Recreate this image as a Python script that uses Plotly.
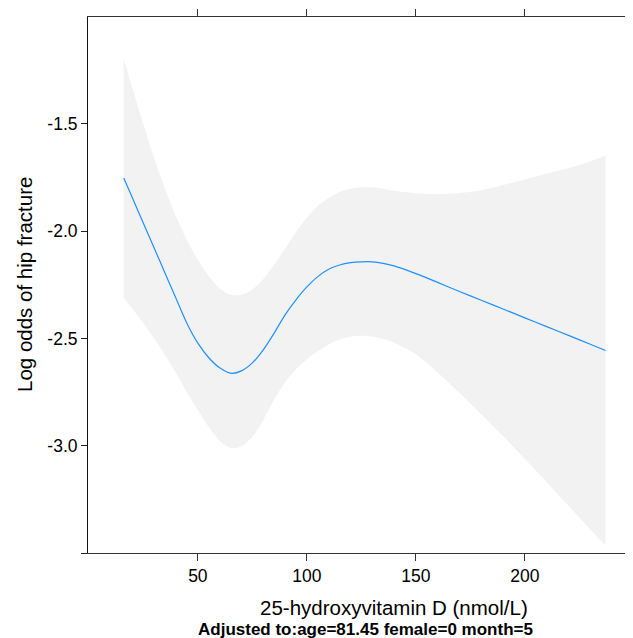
import plotly.graph_objects as go

vitd = [16, 20, 25, 30, 35, 40, 45, 50, 55, 60, 65, 70, 75, 80, 85, 90, 95, 100,
        105, 110, 115, 120, 125, 130, 135, 140, 150, 160, 170, 180, 190, 200,
        210, 220, 230, 237]
log_odds = [-1.752, -1.846, -1.963, -2.080, -2.197, -2.314, -2.430, -2.522, -2.590,
            -2.637, -2.662, -2.651, -2.614, -2.553, -2.475, -2.390, -2.320, -2.260,
            -2.212, -2.178, -2.158, -2.147, -2.143, -2.143, -2.150, -2.162, -2.198,
            -2.239, -2.281, -2.322, -2.363, -2.404, -2.445, -2.486, -2.527, -2.556]
upper = [-1.199, -1.335, -1.503, -1.662, -1.805, -1.932, -2.042, -2.135, -2.209,
         -2.267, -2.297, -2.297, -2.272, -2.223, -2.157, -2.082, -2.005, -1.937,
         -1.882, -1.846, -1.818, -1.803, -1.796, -1.796, -1.802, -1.812, -1.823,
         -1.827, -1.822, -1.809, -1.785, -1.759, -1.733, -1.706, -1.675, -1.648]
lower = [-2.311, -2.363, -2.428, -2.500, -2.577, -2.662, -2.751, -2.834, -2.913,
         -2.977, -3.011, -3.002, -2.958, -2.880, -2.785, -2.705, -2.644, -2.597,
         -2.560, -2.528, -2.505, -2.492, -2.488, -2.491, -2.502, -2.520, -2.574,
         -2.659, -2.754, -2.853, -2.955, -3.061, -3.170, -3.280, -3.390, -3.465]

x_ticks = [50, 100, 150, 200]
y_ticks = [-3.5, -3.0, -2.5, -2.0, -1.5]
y_tick_text = ["", "-3.0", "-2.5", "-2.0", "-1.5"]

FONT = "Liberation Sans, Arial, Helvetica, sans-serif"

fig = go.Figure()
fig.add_trace(go.Scatter(
    x=vitd, y=lower, mode="lines",
    line=dict(width=0, shape="spline", smoothing=0.8),
    hoverinfo="skip", showlegend=False))
fig.add_trace(go.Scatter(
    x=vitd, y=upper, mode="lines", fill="tonexty", fillcolor="#f2f2f2",
    line=dict(width=0, shape="spline", smoothing=0.8),
    hoverinfo="skip", showlegend=False))
fig.add_trace(go.Scatter(
    x=vitd, y=log_odds, mode="lines",
    line=dict(color="#1E90FF", width=1.2, shape="spline", smoothing=0.8),
    showlegend=False))

# page body adds an 8px offset, so the figure is 8px smaller on each axis
fig.update_layout(
    width=625, height=630,
    margin=dict(l=80, r=0, t=9, b=85),
    paper_bgcolor="white", plot_bgcolor="white",
    font=dict(family=FONT, color="black"),
    xaxis=dict(range=[-0.4, 249.6], tickvals=x_ticks, ticks="outside", ticklen=7,
               tickcolor="#333", showline=True, linecolor="#333", linewidth=1,
               mirror="ticks", showgrid=False, zeroline=False,
               tickfont=dict(size=17.5, family=FONT, color="black")),
    yaxis=dict(range=[-3.5, -1.002], tickvals=y_ticks, ticktext=y_tick_text,
               ticks="outside", ticklen=6, tickcolor="#222", showline=True,
               linecolor="#111", linewidth=1, showgrid=False, zeroline=False,
               tickfont=dict(size=17.5, family=FONT, color="black")),
    annotations=[
        dict(text="Log odds of hip fracture", xref="paper", yref="paper",
             x=(16 - 80) / 545, y=0.5, xanchor="center", yanchor="middle",
             textangle=-90, showarrow=False, font=dict(size=20.5, family=FONT)),
        dict(text="25-hydroxyvitamin D (nmol/L)", xref="paper", yref="paper",
             x=(386 - 80) / 545, y=(545 - 599) / 536, xanchor="center",
             yanchor="middle", showarrow=False, font=dict(size=20.5, family=FONT)),
        dict(text="<b>Adjusted to:age=81.45 female=0 month=5</b>", xref="paper",
             yref="paper", x=(357 - 80) / 545, y=(545 - 622) / 536,
             xanchor="center", yanchor="middle", showarrow=False,
             font=dict(size=17, family=FONT)),
    ],
)

fig.write_html("out.html")
